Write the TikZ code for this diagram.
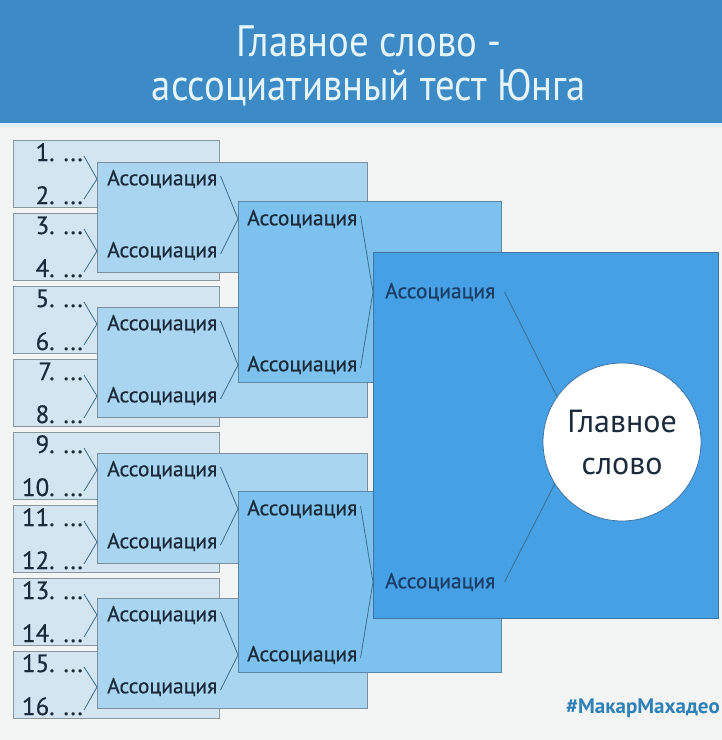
\documentclass[tikz,border=0pt]{standalone}
\usepackage{fontspec}
\setmainfont{PT Sans}
\newfontfamily\titlefont{PT Sans}[FakeStretch=0.88]
\newfontfamily\labfont{PT Sans}[FakeBold=0.6]
\usetikzlibrary{calc}
\definecolor{bg}{HTML}{F3F4F4}
\definecolor{head}{HTML}{3C8BC7}
\definecolor{headline}{HTML}{DDEFF7}
\definecolor{titletxt}{HTML}{E6F5FA}
\definecolor{c0}{HTML}{D3E5F1}
\definecolor{c1}{HTML}{A9D5F1}
\definecolor{c2}{HTML}{7DC2EE}
\definecolor{c3}{HTML}{45A0E6}
\definecolor{b0}{HTML}{8A979F}
\definecolor{b1}{HTML}{7E8F9B}
\definecolor{b2}{HTML}{5C86A6}
\definecolor{b3}{HTML}{3F74A3}
\definecolor{txt}{HTML}{1B2B3C}
\definecolor{txt3}{HTML}{1C3D66}
\definecolor{link}{HTML}{3C6E8F}
\definecolor{foot}{HTML}{2F80B6}
\tikzset{
  lvl0/.style={draw=b0, fill=c0, line width=1pt, anchor=north west, minimum width=206pt, minimum height=67pt, inner sep=0},
  lvl1/.style={draw=b1, fill=c1, line width=1pt, anchor=north west, minimum width=270pt, minimum height=110pt, inner sep=0},
  lvl2/.style={draw=b2, fill=c2, line width=1pt, anchor=north west, minimum width=263pt, minimum height=181pt, inner sep=0},
  lvl3/.style={draw=b3, fill=c3, line width=1pt, anchor=north west, minimum width=345pt, minimum height=366pt, inner sep=0},
  num/.style={anchor=base east, inner sep=1pt, font=\labfont\fontsize{25}{28}\selectfont, text=txt},
  assoc/.style={anchor=west, inner xsep=3pt, inner ysep=1pt, font=\labfont\fontsize{21.5}{23}\selectfont, text=txt},
  assoc3/.style={assoc, text=txt3},
  conn/.style={draw=link, line width=0.8pt},
}
\begin{document}
\begin{tikzpicture}[x=1pt,y=-1pt]
\fill[bg] (0,0) rectangle (722,740);
\useasboundingbox (0,0) rectangle (722,740);
\fill[head] (0,0) rectangle (722,123);
\fill[headline] (0,123) rectangle (722,127);
\node[text=titletxt, font=\titlefont\fontsize{44}{44}\selectfont, align=center, inner sep=0] (title) at (369,66) {Главное слово -\\ассоциативный тест Юнга};

% level 0 boxes with numbers
\foreach \k in {0,...,7}{
  \pgfmathtruncatemacro{\a}{2*\k+1}
  \pgfmathtruncatemacro{\b}{2*\k+2}
  \pgfmathsetmacro{\t}{140+73*\k}
  \node[lvl0] (B\k) at (13,\t) {};
  \node[num] (n\a) at (84,\t+21) {\a. ...};
  \node[num] (n\b) at (84,\t+64) {\b. ...};
}

% level 1 boxes
\foreach \k/\t in {0/162,1/307,2/453,3/598}{
  \node[lvl1] (L1\k) at (97,\t) {};
  \pgfmathtruncatemacro{\p}{2*\k+1}
  \pgfmathtruncatemacro{\q}{2*\k+2}
  \node[assoc] (a\p) at (104,\t+17) {Ассоциация};
  \node[assoc] (a\q) at (104,\t+89) {Ассоциация};
}
\foreach \j in {1,...,8}{
  \pgfmathtruncatemacro{\u}{2*\j-1}
  \pgfmathtruncatemacro{\v}{2*\j}
  \pgfmathtruncatemacro{\k}{int((\j-1)/2)}
  \draw[conn] ($(n\u.base east)+(0,-5)$) -- (a\j.west -| L1\k.west) -- ($(n\v.base east)+(0,-5)$);
}

% level 2 boxes
\foreach \k/\t in {0/201,1/491}{
  \node[lvl2] (L2\k) at (238,\t) {};
  \pgfmathtruncatemacro{\p}{2*\k+1}
  \pgfmathtruncatemacro{\q}{2*\k+2}
  \node[assoc] (m\p) at (244,\t+18) {Ассоциация};
  \node[assoc] (m\q) at (244,\t+164) {Ассоциация};
}
\foreach \j in {1,...,4}{
  \pgfmathtruncatemacro{\u}{2*\j-1}
  \pgfmathtruncatemacro{\v}{2*\j}
  \pgfmathtruncatemacro{\k}{int((\j-1)/2)}
  \draw[conn] ($(a\u.east)+(0,-3)$) -- (m\j.west -| L2\k.west) -- ($(a\v.east)+(0,3)$);
}

% level 3 box
\node[lvl3] (L3) at (373,252) {};
\node[assoc3] (c1) at (382,292) {Ассоциация};
\node[assoc3] (c2) at (382,582) {Ассоциация};
\foreach \j in {1,2}{
  \pgfmathtruncatemacro{\u}{2*\j-1}
  \pgfmathtruncatemacro{\v}{2*\j}
  \draw[conn] ($(m\u.east)+(0,-3)$) -- (c\j.west -| L3.west) -- ($(m\v.east)+(0,3)$);
}

% main word
\node[circle, fill=white, draw=b3, line width=0.8pt, minimum size=158pt, inner sep=0, align=center,
      font=\fontsize{32}{42}\selectfont, text=txt] (main) at (622,442) {Главное\\слово};
\draw[conn] ($(c1.east)+(6,0)$) -- (main.145);
\draw[conn] ($(c2.east)+(6,0)$) -- (main.212);

\node[anchor=south east, inner sep=0, text=foot, font=\bfseries\fontsize{21}{23}\selectfont] (tag) at (720,718) {\#МакарМахадео};
\end{tikzpicture}
\end{document}
